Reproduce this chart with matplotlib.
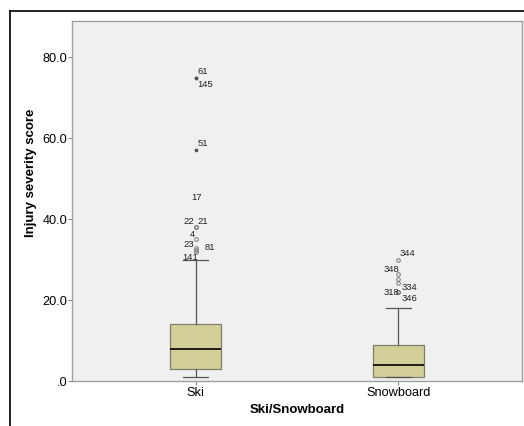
import matplotlib.pyplot as plt
from matplotlib.lines import Line2D
from matplotlib.ticker import FuncFormatter

plt.rcParams['font.family'] = ['Liberation Sans', 'DejaVu Sans']

# summary stats
groups = ['Ski', 'Snowboard']
q1 = [3, 1]
medians = [8, 4]
q3 = [14, 9]
whisker_lo = [1, 1]
whisker_hi = [30, 18]

# outliers (circles) and extremes (stars) with case numbers
ski_outliers = [45, 38, 38, 35, 33, 32.5, 32]
ski_outlier_ids = ['17', '22', '21', '4', '23', '81', '141']
ski_extremes = [75, 75, 57]
ski_extreme_ids = ['61', '145', '51']

sb_outliers = [30, 26.4, 25.2, 24.2, 22, 22]
sb_outlier_ids = ['344', '348', '', '334', '318', '346']

outliers = [ski_outliers, sb_outliers]
extremes = [ski_extremes, []]

fig = plt.figure(figsize=(5.24, 4.26), dpi=100)
ax = fig.add_axes([72 / 524, 1 - 381 / 426, 450 / 524, 360 / 426])
ax.set_facecolor('#f0f0f0')

stats = []
for i, g in enumerate(groups):
    stats.append(dict(label=g, med=medians[i], q1=q1[i], q3=q3[i],
                      whislo=whisker_lo[i], whishi=whisker_hi[i], fliers=[]))
positions = [1, 2]
ax.bxp(stats, positions=positions, widths=0.25, patch_artist=True,
       showfliers=False,
       boxprops=dict(facecolor='#d4cf99', edgecolor='#7f7f6a', linewidth=0.9),
       medianprops=dict(color='black', linewidth=1.2),
       whiskerprops=dict(color='#555555', linewidth=0.9),
       capprops=dict(color='#555555', linewidth=0.9))

# outlier circles and extreme stars
for p, vals in zip(positions, outliers):
    ax.plot([p] * len(vals), vals, 'o', ms=2.6, mfc='none', mec='#777777', mew=0.7)
for p, vals in zip(positions, extremes):
    if vals:
        ax.plot([p] * len(vals), vals, '*', ms=2.4, color='#555555')

lab = dict(textcoords='offset points', fontsize=6.8, color='#222222',
           va='center', ha='left')

# case labels, offsets in points from the marker
ski_offsets = [(-3, 1), (-8.6, 4.3), (1.4, 4.3), (-4.3, 3.6), (-8.6, 2.2), (6.5, 1.4), (-9.4, -4.3)]
for v, t, off in zip(ski_outliers, ski_outlier_ids, ski_offsets):
    a = ax.annotate(t, (1, v), xytext=off, **lab)
    if t == '17':
        a.set_bbox(dict(facecolor='#f0f0f0', edgecolor='none', pad=0.3))
ext_offsets = [(1.4, 4.3), (1.4, -5), (1.4, 5)]
for v, t, off in zip(ski_extremes, ski_extreme_ids, ext_offsets):
    ax.annotate(t, (1, v), xytext=off, **lab)
sb_offsets = [(1, 4.5), (-10.8, 3.6), (0, 0), (2, -3), (-10.8, 0), (2, -5)]
for v, t, off in zip(sb_outliers, sb_outlier_ids, sb_offsets):
    if t:
        ax.annotate(t, (2, v), xytext=off, **lab)

ax.set_xlim(0.39, 2.61)
ax.set_ylim(0, 89)
ax.set_yticks([0, 20, 40, 60, 80])
ax.yaxis.set_major_formatter(FuncFormatter(lambda v, p: '.0' if v == 0 else f'{v:.1f}'))
ax.set_xticks(positions)
ax.set_xticklabels(groups)
ax.tick_params(axis='both', colors='#888888', labelcolor='black', labelsize=9.2,
               length=3, width=0.8)
ax.tick_params(axis='y', pad=0.5)
ax.tick_params(axis='x', pad=1.5)
for s in ax.spines.values():
    s.set_color('#a0a0a0')
    s.set_linewidth(1.0)

ax.set_ylabel('Injury severity score', fontsize=9.5, fontweight='bold')
ax.set_xlabel('Ski/Snowboard', fontsize=9.5, fontweight='bold')
ax.yaxis.set_label_coords(-0.078, 0.578)
ax.xaxis.set_label_coords(0.5, -0.064)

# outer black frame (top and left edges visible)
W, H = 524, 426
fig.add_artist(Line2D([10 / W, 1], [1 - 11 / H, 1 - 11 / H], color='black', lw=1.2,
                      transform=fig.transFigure))
fig.add_artist(Line2D([10 / W, 10 / W], [0, 1 - 11 / H], color='black', lw=1.2,
                      transform=fig.transFigure))

fig.savefig('out.png', dpi=100)
